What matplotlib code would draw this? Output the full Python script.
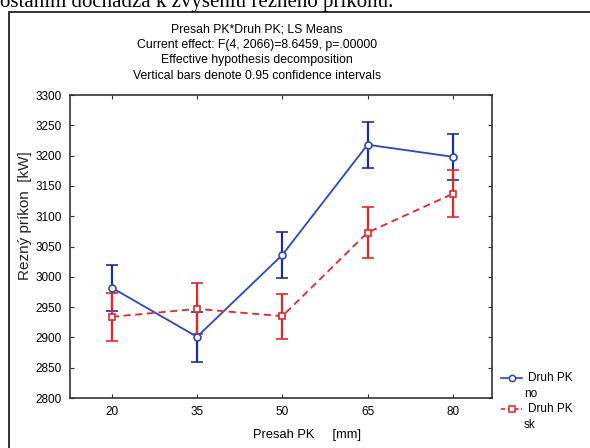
import numpy as np
import matplotlib; matplotlib.use("Agg")
import matplotlib.pyplot as plt
from matplotlib.lines import Line2D
from matplotlib.patches import Rectangle

# ---- data ----
presah = ["20", "35", "50", "65", "80"]
no_mean = [2982, 2901, 3036, 3218, 3198]
no_ci   = [38, 41, 38, 38, 38]
sk_mean = [2934, 2947, 2935, 3073, 3137]
sk_ci   = [40, 42, 37, 42, 39]
yticks = list(range(2800, 3301, 50))

title_lines = ["Presah PK*Druh PK; LS Means",
               "Current effect: F(4, 2066)=8.6459, p=.00000",
               "Effective hypothesis decomposition",
               "Vertical bars denote 0.95 confidence intervals"]

plt.rcParams["font.family"] = ["Liberation Sans", "DejaVu Sans"]
BLUE, BLUE_D, RED = "#2a47c4", "#1b2f9c", "#e8262a"
W, H = 590, 448

fig = plt.figure(figsize=(W/100, H/100), dpi=100)
fig.patch.set_facecolor("white")

# line of body text at the very top of the scan (cut off in the original too)
fig.text(0.0, 1-7/H, "ostaním dochádza k zvýšeniu rezného príkonu.",
         family="Liberation Serif", fontsize=15, va="baseline", ha="left")
# frame round the figure
fig.add_artist(Rectangle((9/W, -0.05), 1.0, 1-12/H+0.05, transform=fig.transFigure,
                         fill=False, lw=1.4, ec="#333333"))

ax = fig.add_axes([70/W, 1-398/H, 422/W, 303/H])
x = np.arange(len(presah))
ax.errorbar(x, no_mean, yerr=no_ci, color=BLUE, ecolor=BLUE_D, lw=1.3, elinewidth=1.6,
            capsize=4.5, capthick=1.6, marker="o", ms=5, mfc="white", mec=BLUE, mew=1.2, zorder=3)
ax.errorbar(x, sk_mean, yerr=sk_ci, color=RED, ecolor=RED, lw=1.3, ls=(0, (4, 2.5)),
            elinewidth=1.6, capsize=4.5, capthick=1.6, marker="s", ms=5, mfc="white",
            mec=RED, mew=1.2, zorder=3)

ax.set_xlim(-0.49, 4.46); ax.set_ylim(2800, 3300)
ax.set_xticks(x); ax.set_xticklabels(presah)
ax.set_yticks(yticks)
ax.tick_params(direction="in", length=3, top=True, right=True, labelsize=8.5,
               color="#333333", pad=6)
for s in ax.spines.values():
    s.set_linewidth(1.2); s.set_color("#333333")

for i, t in enumerate(title_lines):
    fig.text(257/W, 1-(29+15.7*i)/H, t, ha="center", va="center", fontsize=8.8)

fig.text(25/W, 1-216/H, "Rezný príkon  [kW]", rotation=90, ha="center", va="center",
         fontsize=11, color="#222222")
fig.text(307/W, 1-435/H, "Presah PK     [mm]", ha="center", va="center",
         fontsize=9.3)

# legend drawn by hand (label wraps under the handle)
for y0, col, mk, ls, lab in [(378, BLUE, "o", "-", "no"), (409, RED, "s", (0, (2.5, 1.5)), "sk")]:
    fig.add_artist(Line2D([501/W, 522/W], [1-y0/H]*2, transform=fig.transFigure,
                          color=col, lw=1.2, ls=ls))
    fig.add_artist(Line2D([511.5/W], [1-y0/H], transform=fig.transFigure, marker=mk,
                          ms=4.5, mfc="white", mec=col, mew=1.1, ls="none"))
    fig.text(528/W, 1-y0/H, "Druh PK", ha="left", va="center", fontsize=8.5)
    fig.text(524/W, 1-(y0+16)/H, lab, ha="left", va="center", fontsize=8.5)

fig.savefig("out.png", dpi=100)
